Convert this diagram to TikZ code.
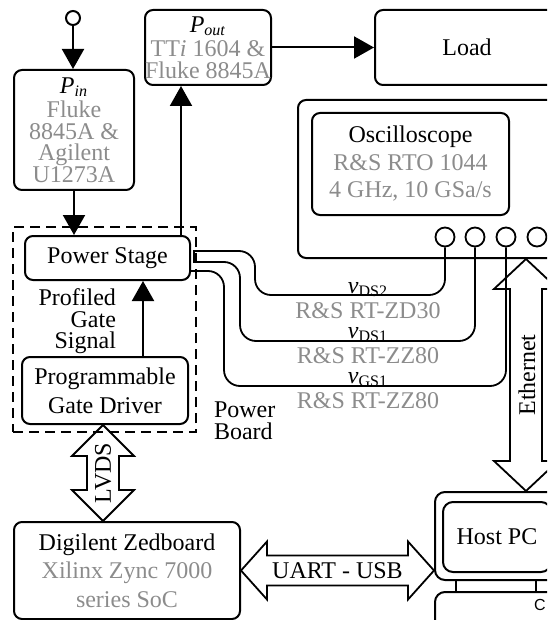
\documentclass[tikz,border=0pt]{standalone}
\usepackage{fontspec}
\setmainfont{Liberation Serif}
\setsansfont{Liberation Sans}
\usetikzlibrary{arrows.meta, positioning, calc}
\definecolor{ProbeGray}{RGB}{140, 140, 140}
\newcommand{\greytext}[1]{\textcolor{ProbeGray}{#1}}

\begin{document}
\begin{tikzpicture}[x=0.5pt, y=-0.5pt,
    every node/.style={font=\fontsize{12}{11}\selectfont},
    blockbox/.style={draw, line width=1pt, rounded corners=4pt, align=center, inner sep=0pt},
    sigarrow/.style={-{Triangle[length=10pt,width=11pt]}, line width=1pt},
    fatarrow/.style={draw, line width=0.9pt, line join=miter},
    cable/.style={line width=0.9pt, rounded corners=8pt},
    cablelabel/.style={anchor=base, inner sep=0pt, text height=6pt},
    probename/.style={anchor=base, inner sep=0pt, text depth=0pt},
    probe/.style={draw, circle, line width=0.9pt, minimum size=9.5pt, inner sep=0pt}]
    \useasboundingbox (0,0) rectangle (547,620);
    \clip (0,0) rectangle (547,620);

    % Supply terminal
    \node[draw, circle, line width=1pt, minimum size=7pt, inner sep=0pt] (term) at (73,18) {};

    % Input power meter
    \node[blockbox, minimum width=60pt, minimum height=60pt, font=\fontsize{12}{10.75}\selectfont] (pin) at (74,130) {
      \textit{P}\textsubscript{\textit{in}}\\[1.5pt]
      \greytext{Fluke}\\
      \greytext{8845A \&}\\
      \greytext{Agilent}\\
      \greytext{U1273A}
    };

    % Output power meter
    \node[blockbox, minimum width=60pt, minimum height=37.5pt, font=\fontsize{12}{11}\selectfont] (pout) at (208,47.5) {
      \textit{P}\textsubscript{\textit{out}}\\[1pt]
      \greytext{TT\textit{i} 1604 \&}\\
      \greytext{Fluke 8845A}
    };

    % Load
    \node[blockbox, minimum width=92pt, minimum height=37.5pt] (load) at (467,47.5) {Load};

    % Power board
    \node[draw, line width=1.1pt, dash pattern=on 5pt off 3pt, minimum width=91.5pt, minimum height=102.5pt, inner sep=0pt] (board) at (104.5,329.5) {};
    \node[blockbox, minimum width=82.5pt, minimum height=22pt] (pstage) at (107.5,258) {Power Stage};
    \node[blockbox, minimum width=83pt, minimum height=33.5pt, font=\fontsize{12}{14.5}\selectfont] (pgd) at (105,390.5) {
      Programmable\\
      Gate Driver
    };
    \node[align=right, anchor=east, font=\fontsize{12}{10.75}\selectfont] (gatelabel) at (123,321.5) {Profiled\\Gate\\Signal};
    \node[align=left, anchor=west] (boardlabel) at (207,421) {Power\\Board};

    % Oscilloscope
    \node[draw, line width=1pt, rounded corners=4pt, minimum width=161pt, minimum height=79pt, inner sep=0pt] (scopeframe) at (459,179) {};
    \node[blockbox, minimum width=98.5pt, minimum height=51pt, font=\fontsize{12}{13.75}\selectfont] (scope) at (410.5,164) {
      Oscilloscope\\
      \greytext{R\&S RTO 1044}\\
      \greytext{4 GHz, 10 GSa/s}
    };
    \foreach \i/\x in {1/445, 2/475, 3/506, 4/537}
      \node[probe] (p\i) at (\x,237) {};

    % Zedboard
    \node[blockbox, minimum width=113pt, minimum height=48.5pt, font=\fontsize{12}{14.25}\selectfont] (zed) at (127,570.5) {
      Digilent Zedboard\\
      \greytext{Xilinx Zync 7000}\\
      \greytext{series SoC}
    };

    % Host PC
    \node[draw, line width=1pt, rounded corners=5pt, minimum width=62pt, minimum height=44pt, inner sep=0pt] (monitor) at (497,536) {};
    \node[blockbox, rounded corners=5pt, minimum width=54pt, minimum height=35pt] (host) at (497,537) {Host PC};
    \node[draw, line width=1pt, rounded corners=5pt, minimum width=62pt, minimum height=33pt, inner sep=0pt] (keyboard) at (497,625) {};
    \node[font=\sffamily\fontsize{8}{8}\selectfont] (key) at (540,605) {C};
    \draw[line width=1pt] ($(monitor.south west)+(22,0)$) -- ($(keyboard.north west)+(22,0)$);
    \draw[line width=1pt] ($(monitor.south west)+(102,0)$) -- ($(keyboard.north west)+(102,0)$);

    % Power flow
    \draw[sigarrow] (term.south) -- (term.south |- pin.north);
    \draw[sigarrow] (pin.south) -- (pin.south |- pstage.north);
    \coordinate (psout) at ($(pstage.north east)+(-10,0)$);
    \draw[sigarrow] (psout) -- (psout |- pout.south);
    \draw[sigarrow] (pout.east) -- (load.west);
    \coordinate (gatesig) at ($(pgd.north)+(38,0)$);
    \draw[sigarrow] (gatesig) -- (gatesig |- pstage.south);

    % Probe cables
    \draw[cable] ($(pstage.east)+(2,-7)$) -- (255,251) -- (255,295) -- (445,295) -- (p1.south);
    \draw[cable] ($(pstage.east)+(2,4)$) -- (240,262) -- (240,341) -- (475,341) -- (p2.south);
    \draw[cable] ($(pstage.east)+(0,13)$) -- (224,271) -- (224,386) -- (506,386) -- (p3.south);
    \draw[line width=0.9pt] ($(pstage.east)+(3,-7)$) -- ($(pstage.east)+(3,4)$);
    \node[cablelabel] (vds2) at (368,293) {\textit{v}\textsubscript{DS2}};
    \node[probename] (zd30) at (368,318) {\greytext{R\&S RT-ZD30}};
    \node[cablelabel] (vds1) at (368,338) {\textit{v}\textsubscript{DS1}};
    \node[probename] (zz80a) at (368,363) {\greytext{R\&S RT-ZZ80}};
    \node[cablelabel] (vgs1) at (368,383) {\textit{v}\textsubscript{GS1}};
    \node[probename] (zz80b) at (368,408) {\greytext{R\&S RT-ZZ80}};

    % LVDS link
    \coordinate (lvdstop) at ($(pgd.south)+(-2,0)$);
    \coordinate (lvdsbot) at (lvdstop |- zed.north);
    \draw[fatarrow] (lvdstop) -- ++(31,31) -- ++(-15,0) -- ($(lvdsbot)+(16,-31)$) -- ++(15,0) -- (lvdsbot)
      -- ++(-31,-31) -- ++(15,0) -- ($(lvdstop)+(-16,31)$) -- ++(-15,0) -- cycle;
    \node[rotate=90] (lvds) at ($(lvdstop)!0.5!(lvdsbot)$) {LVDS};

    % Ethernet link
    \coordinate (ethtop) at ($(scopeframe.south west)+(229,0)$);
    \coordinate (ethbot) at (ethtop |- monitor.north);
    \draw[fatarrow] (ethtop) -- ++(32,30) -- ++(-16,0) -- ($(ethbot)+(16,-30)$) -- ++(16,0) -- (ethbot)
      -- ++(-32,-30) -- ++(16,0) -- ($(ethtop)+(-16,30)$) -- ++(-16,0) -- cycle;
    \node[rotate=90] (eth) at ($(ethtop)!0.5!(ethbot)+(1,0)$) {Ethernet};

    % UART link
    \coordinate (uartend) at (monitor.west |- zed.east);
    \draw[fatarrow] (zed.east) -- ++(26,-29) -- ++(0,14) -- ($(uartend)+(-26,-15)$) -- ++(0,-14) -- (uartend)
      -- ++(-26,29) -- ++(0,-14) -- ($(zed.east)+(26,15)$) -- ++(0,14) -- cycle;
    \node (uart) at ($(zed.east)!0.5!(uartend)$) {UART - USB};
\end{tikzpicture}
\end{document}
